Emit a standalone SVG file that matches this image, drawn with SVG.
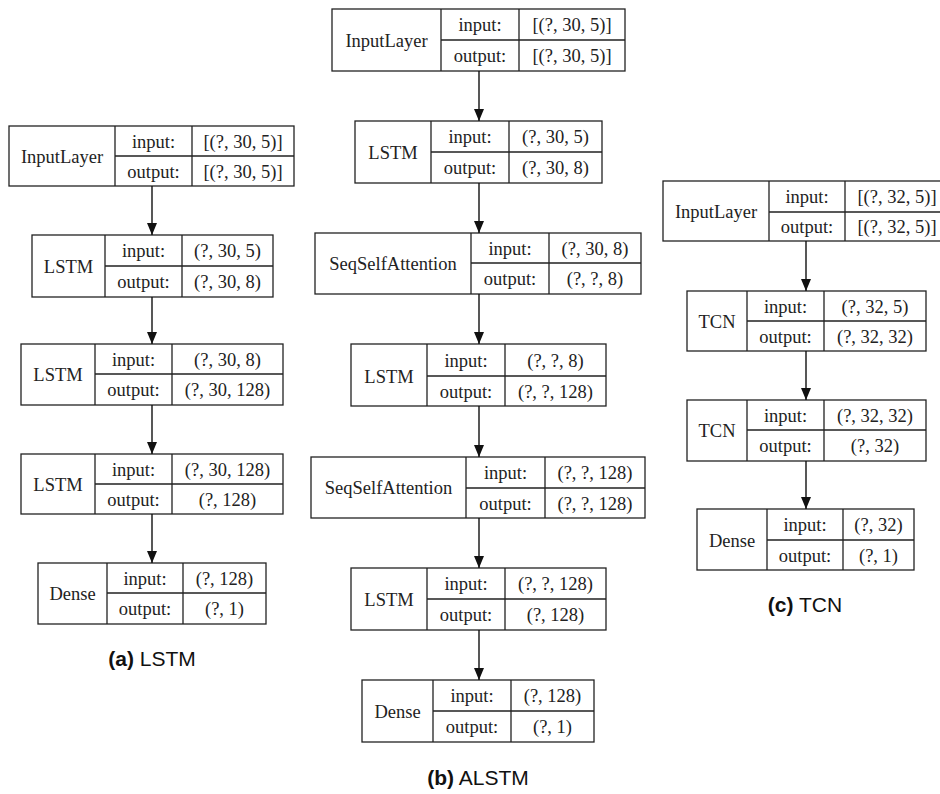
<svg xmlns="http://www.w3.org/2000/svg" width="940" height="794" viewBox="0 0 940 794">
  <style>
    .box { fill: #fff; stroke: #222; stroke-width: 1.3; }
    .ln { stroke: #222; stroke-width: 1.3; fill: none; }
    .t { font-family: "Liberation Serif", "Times New Roman", serif; font-size: 18.5px; fill: #222; text-anchor: middle; }
    .cap { font-family: "Liberation Sans", Arial, sans-serif; font-size: 21px; fill: #111; text-anchor: middle; }
    .cap .b { font-weight: bold; }
    .edge { stroke: #111; stroke-width: 1.4; fill: none; marker-end: url(#head); }
  </style>
  <defs>
    <marker id="head" markerUnits="userSpaceOnUse" viewBox="0 0 12 10" refX="12" refY="5" markerWidth="12" markerHeight="10" orient="auto">
      <path d="M0,0 L12,5 L0,10 z" fill="#111"/>
    </marker>
  </defs>
  <rect width="940" height="794" fill="#fff"/>

  <!-- (a) LSTM model -->
  <g id="a-input">
    <rect class="box" x="9" y="126" width="285" height="60"/>
    <path class="ln" d="M115,126 V186 M192,126 V186 M115,156 H294"/>
    <text class="t" x="62" y="162.5">InputLayer</text>
    <text class="t" x="153.5" y="147.5">input:</text>
    <text class="t" x="153.5" y="177.5">output:</text>
    <text class="t" x="243" y="147.5">[(?, 30, 5)]</text>
    <text class="t" x="243" y="177.5">[(?, 30, 5)]</text>
  </g>
  <g id="a-lstm1">
    <rect class="box" x="32" y="235" width="241" height="62"/>
    <path class="ln" d="M105,235 V297 M182,235 V297 M105,266 H273"/>
    <text class="t" x="68.5" y="272.5">LSTM</text>
    <text class="t" x="143.5" y="257">input:</text>
    <text class="t" x="143.5" y="288">output:</text>
    <text class="t" x="227.5" y="257">(?, 30, 5)</text>
    <text class="t" x="227.5" y="288">(?, 30, 8)</text>
  </g>
  <g id="a-lstm2">
    <rect class="box" x="21" y="344" width="262" height="61"/>
    <path class="ln" d="M95,344 V405 M172,344 V405 M95,374 H283"/>
    <text class="t" x="58" y="381">LSTM</text>
    <text class="t" x="133.5" y="365.5">input:</text>
    <text class="t" x="133.5" y="396">output:</text>
    <text class="t" x="227.5" y="365.5">(?, 30, 8)</text>
    <text class="t" x="227.5" y="396">(?, 30, 128)</text>
  </g>
  <g id="a-lstm3">
    <rect class="box" x="21" y="454" width="262" height="60"/>
    <path class="ln" d="M95,454 V514 M172,454 V514 M95,484 H283"/>
    <text class="t" x="58" y="490.5">LSTM</text>
    <text class="t" x="133.5" y="475.5">input:</text>
    <text class="t" x="133.5" y="505.5">output:</text>
    <text class="t" x="227.5" y="475.5">(?, 30, 128)</text>
    <text class="t" x="227.5" y="505.5">(?, 128)</text>
  </g>
  <g id="a-dense">
    <rect class="box" x="38" y="563" width="228" height="61"/>
    <path class="ln" d="M107,563 V624 M183,563 V624 M107,593 H266"/>
    <text class="t" x="72.5" y="600">Dense</text>
    <text class="t" x="145" y="584.5">input:</text>
    <text class="t" x="145" y="615">output:</text>
    <text class="t" x="224.5" y="584.5">(?, 128)</text>
    <text class="t" x="224.5" y="615">(?, 1)</text>
  </g>
  <text class="cap" x="152" y="666"><tspan class="b">(a)</tspan> LSTM</text>

  <!-- (b) ALSTM model -->
  <g id="b-input">
    <rect class="box" x="332" y="9" width="293" height="62"/>
    <path class="ln" d="M441,9 V71 M519,9 V71 M441,40 H625"/>
    <text class="t" x="386.5" y="46.5">InputLayer</text>
    <text class="t" x="480" y="31">input:</text>
    <text class="t" x="480" y="62">output:</text>
    <text class="t" x="572" y="31">[(?, 30, 5)]</text>
    <text class="t" x="572" y="62">[(?, 30, 5)]</text>
  </g>
  <g id="b-lstm1">
    <rect class="box" x="355" y="121" width="247" height="62"/>
    <path class="ln" d="M431,121 V183 M509,121 V183 M431,152 H602"/>
    <text class="t" x="393" y="158.5">LSTM</text>
    <text class="t" x="470" y="143">input:</text>
    <text class="t" x="470" y="174">output:</text>
    <text class="t" x="555.5" y="143">(?, 30, 5)</text>
    <text class="t" x="555.5" y="174">(?, 30, 8)</text>
  </g>
  <g id="b-attn1">
    <rect class="box" x="315" y="233" width="326" height="61"/>
    <path class="ln" d="M471,233 V294 M549,233 V294 M471,263 H641"/>
    <text class="t" x="393" y="269.5">SeqSelfAttention</text>
    <text class="t" x="510" y="254.5">input:</text>
    <text class="t" x="510" y="285">output:</text>
    <text class="t" x="595" y="254.5">(?, 30, 8)</text>
    <text class="t" x="595" y="285">(?, ?, 8)</text>
  </g>
  <g id="b-lstm2">
    <rect class="box" x="351" y="344" width="255" height="62"/>
    <path class="ln" d="M427,344 V406 M505,344 V406 M427,376 H606"/>
    <text class="t" x="389" y="382.5">LSTM</text>
    <text class="t" x="466" y="366.5">input:</text>
    <text class="t" x="466" y="397.5">output:</text>
    <text class="t" x="555.5" y="366.5">(?, ?, 8)</text>
    <text class="t" x="555.5" y="397.5">(?, ?, 128)</text>
  </g>
  <g id="b-attn2">
    <rect class="box" x="311" y="457" width="334" height="61"/>
    <path class="ln" d="M466,457 V518 M545,457 V518 M466,488 H645"/>
    <text class="t" x="388.5" y="494">SeqSelfAttention</text>
    <text class="t" x="505.5" y="478.5">input:</text>
    <text class="t" x="505.5" y="509.5">output:</text>
    <text class="t" x="595" y="478.5">(?, ?, 128)</text>
    <text class="t" x="595" y="509.5">(?, ?, 128)</text>
  </g>
  <g id="b-lstm3">
    <rect class="box" x="351" y="568" width="255" height="62"/>
    <path class="ln" d="M427,568 V630 M505,568 V630 M427,599 H606"/>
    <text class="t" x="389" y="605.5">LSTM</text>
    <text class="t" x="466" y="590">input:</text>
    <text class="t" x="466" y="621">output:</text>
    <text class="t" x="555.5" y="590">(?, ?, 128)</text>
    <text class="t" x="555.5" y="621">(?, 128)</text>
  </g>
  <g id="b-dense">
    <rect class="box" x="362" y="680" width="232" height="62"/>
    <path class="ln" d="M433,680 V742 M511,680 V742 M433,711 H594"/>
    <text class="t" x="397.5" y="717.5">Dense</text>
    <text class="t" x="472" y="702">input:</text>
    <text class="t" x="472" y="733">output:</text>
    <text class="t" x="552.5" y="702">(?, 128)</text>
    <text class="t" x="552.5" y="733">(?, 1)</text>
  </g>
  <text class="cap" x="478" y="785"><tspan class="b">(b)</tspan> ALSTM</text>

  <!-- (c) TCN model -->
  <g id="c-input">
    <rect class="box" x="663" y="181" width="286" height="60"/>
    <path class="ln" d="M769,181 V241 M845,181 V241 M769,212 H949"/>
    <text class="t" x="716" y="217.5">InputLayer</text>
    <text class="t" x="807" y="203">input:</text>
    <text class="t" x="807" y="233">output:</text>
    <text class="t" x="897" y="203">[(?, 32, 5)]</text>
    <text class="t" x="897" y="233">[(?, 32, 5)]</text>
  </g>
  <g id="c-tcn1">
    <rect class="box" x="687" y="291" width="239" height="60"/>
    <path class="ln" d="M747,291 V351 M824,291 V351 M747,321 H926"/>
    <text class="t" x="717" y="327.5">TCN</text>
    <text class="t" x="785.5" y="312.5">input:</text>
    <text class="t" x="785.5" y="342.5">output:</text>
    <text class="t" x="875" y="312.5">(?, 32, 5)</text>
    <text class="t" x="875" y="342.5">(?, 32, 32)</text>
  </g>
  <g id="c-tcn2">
    <rect class="box" x="687" y="400" width="239" height="61"/>
    <path class="ln" d="M747,400 V461 M824,400 V461 M747,430 H926"/>
    <text class="t" x="717" y="436.5">TCN</text>
    <text class="t" x="785.5" y="421.5">input:</text>
    <text class="t" x="785.5" y="452">output:</text>
    <text class="t" x="875" y="421.5">(?, 32, 32)</text>
    <text class="t" x="875" y="452">(?, 32)</text>
  </g>
  <g id="c-dense">
    <rect class="box" x="697" y="509" width="217" height="61"/>
    <path class="ln" d="M767,509 V570 M843,509 V570 M767,540 H914"/>
    <text class="t" x="732" y="546.5">Dense</text>
    <text class="t" x="805" y="531">input:</text>
    <text class="t" x="805" y="561.5">output:</text>
    <text class="t" x="878.5" y="531">(?, 32)</text>
    <text class="t" x="878.5" y="561.5">(?, 1)</text>
  </g>
  <text class="cap" x="805" y="612"><tspan class="b">(c)</tspan> TCN</text>

  <!-- connectors -->
  <g id="edges">
    <path class="edge" d="M152,186 V235"/>
    <path class="edge" d="M152,297 V344"/>
    <path class="edge" d="M152,405 V454"/>
    <path class="edge" d="M152,514 V563"/>
    <path class="edge" d="M479,71 V121"/>
    <path class="edge" d="M479,183 V233"/>
    <path class="edge" d="M479,294 V344"/>
    <path class="edge" d="M479,406 V457"/>
    <path class="edge" d="M479,518 V568"/>
    <path class="edge" d="M479,630 V680"/>
    <path class="edge" d="M806,241 V291"/>
    <path class="edge" d="M806,351 V400"/>
    <path class="edge" d="M806,461 V509"/>
  </g>
</svg>
